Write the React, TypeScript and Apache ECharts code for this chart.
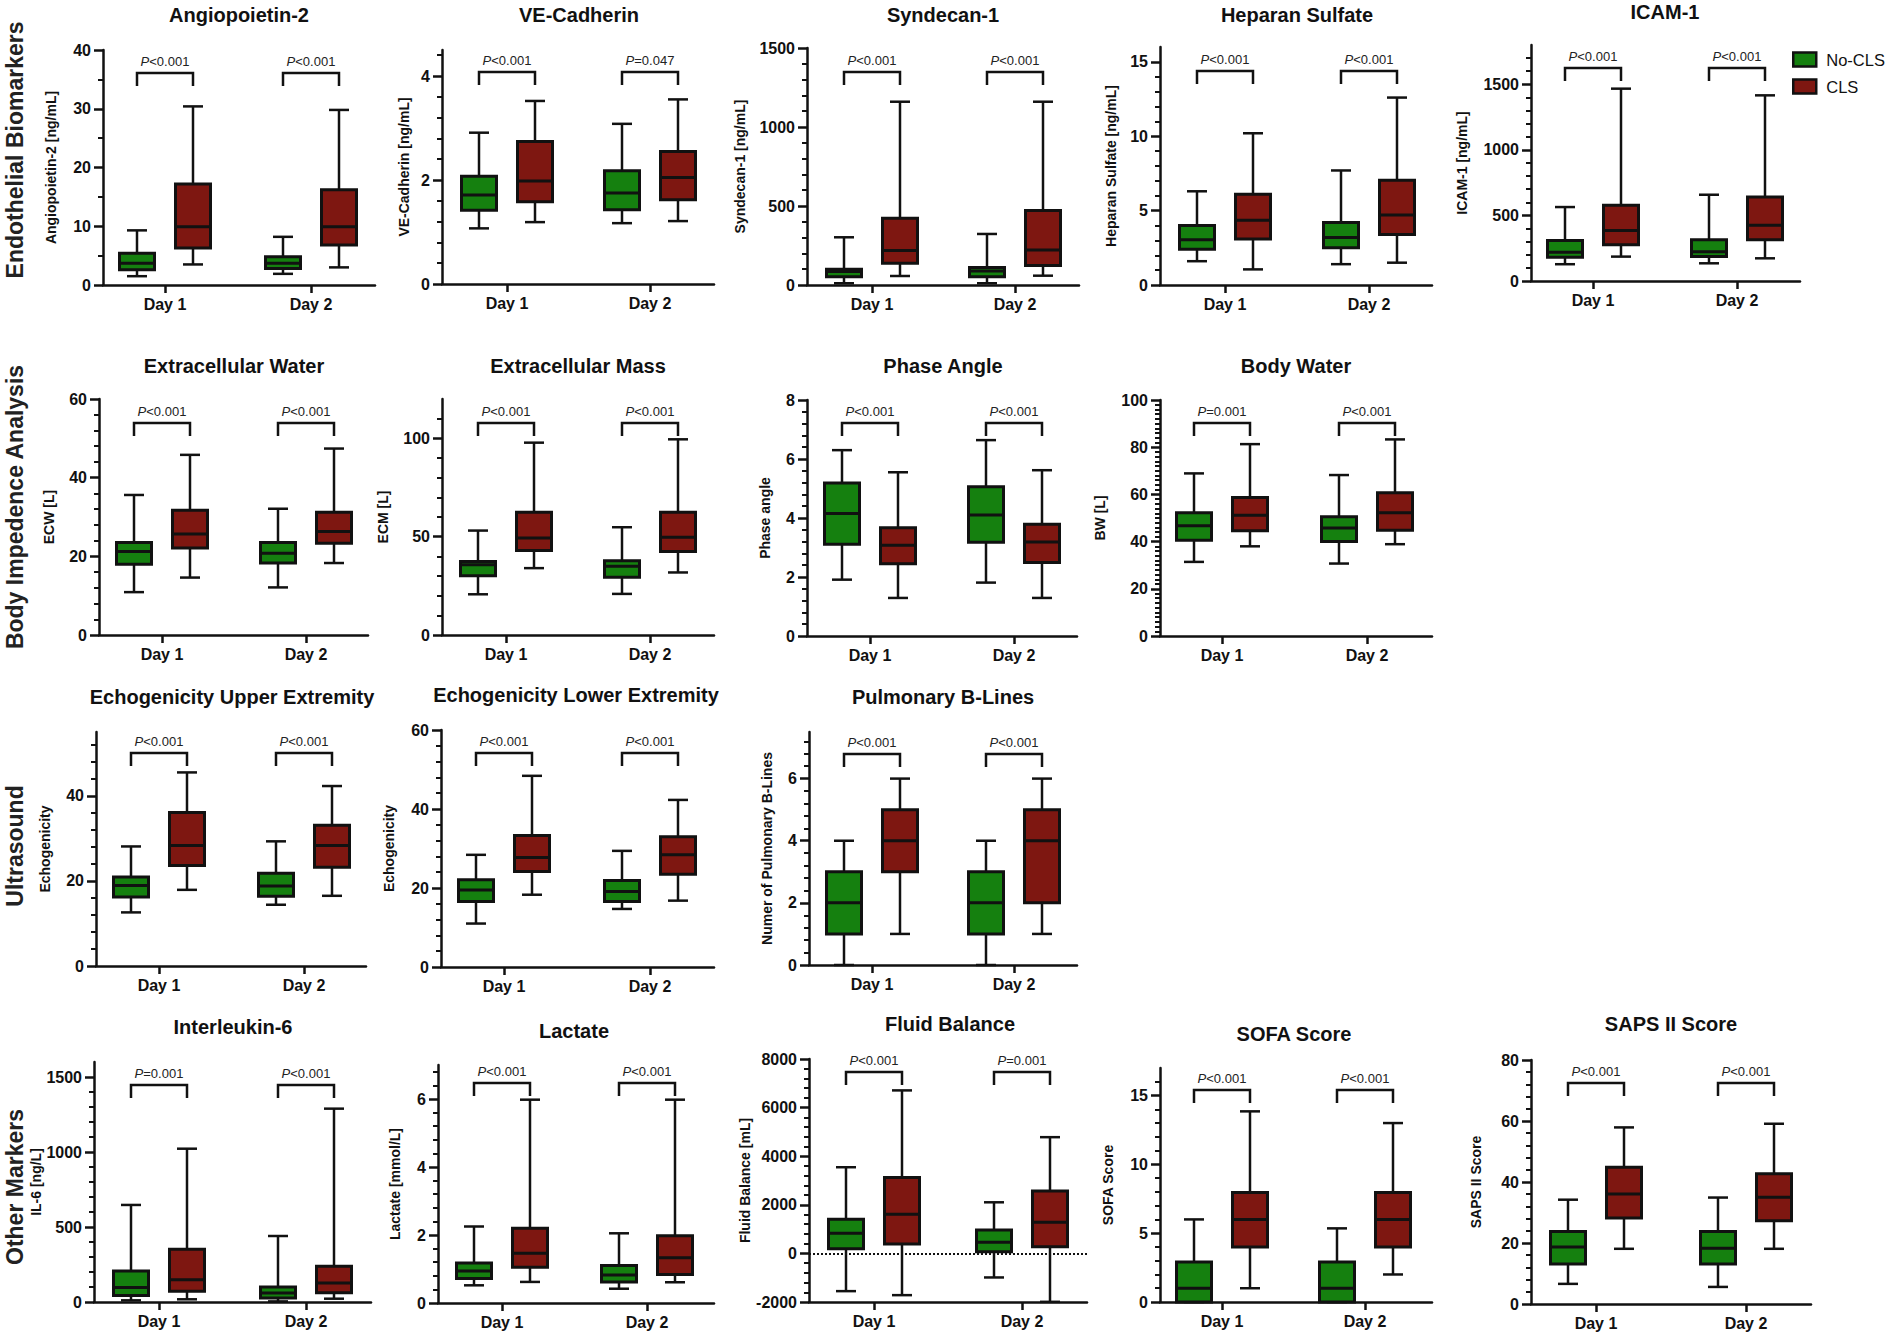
import React, { useEffect, useRef } from "react";
import * as echarts from "echarts";

const FONT = "'Liberation Sans', Arial, Helvetica, sans-serif";
const GREEN = "#15800f";
const RED = "#7e1711";
const INK = "#111111";

const days = ["Day 1", "Day 2"];
const groupNames = ["No-CLS", "CLS"];
const rowLabels = ["Endothelial Biomarkers", "Body Impedence Analysis", "Ultrasound", "Other Markers"];

// [min, Q1, median, Q3, max] for Day 1, Day 2
const angioNoCLS = [[1.5, 2.6, 3.7, 5.4, 9.3], [1.9, 2.8, 3.7, 4.8, 8.2]];
const angioCLS = [[3.5, 6.3, 9.9, 17.2, 30.4], [3.0, 6.8, 9.9, 16.2, 29.8]];
const angioP = ["<0.001", "<0.001"];

const veNoCLS = [[1.07, 1.42, 1.71, 2.07, 2.91], [1.17, 1.43, 1.75, 2.18, 3.08]];
const veCLS = [[1.19, 1.58, 1.98, 2.74, 3.52], [1.21, 1.62, 2.05, 2.55, 3.55]];
const veP = ["<0.001", "=0.047"];

const syndNoCLS = [[11, 53, 85, 99, 302], [11, 53, 89, 110, 323]];
const syndCLS = [[57, 137, 218, 423, 1160], [59, 123, 222, 471, 1160]];
const syndP = ["<0.001", "<0.001"];

const hepNoCLS = [[1.6, 2.4, 3.05, 4.0, 6.3], [1.4, 2.5, 3.2, 4.2, 7.7]];
const hepCLS = [[1.05, 3.1, 4.35, 6.1, 10.2], [1.5, 3.4, 4.7, 7.05, 12.6]];
const hepP = ["<0.001", "<0.001"];

const icamNoCLS = [[128, 181, 219, 309, 564], [135, 186, 224, 314, 658]];
const icamCLS = [[186, 276, 385, 577, 1467], [173, 314, 426, 640, 1416]];
const icamP = ["<0.001", "<0.001"];

const ecwNoCLS = [[10.9, 18, 21.2, 23.5, 35.6], [12.1, 18.3, 20.8, 23.5, 32.1]];
const ecwCLS = [[14.6, 22.1, 25.7, 31.7, 45.8], [18.3, 23.3, 26.3, 31.2, 47.4]];
const ecwP = ["<0.001", "<0.001"];

const ecmNoCLS = [[20.7, 30.1, 35.7, 37.4, 53.1], [20.9, 29.4, 34.9, 37.8, 54.8]];
const ecmCLS = [[34, 43, 49.3, 62.4, 97.8], [31.8, 42.5, 49.7, 62.4, 99.5]];
const ecmP = ["<0.001", "<0.001"];

const phaseNoCLS = [[1.91, 3.11, 4.15, 5.19, 6.3], [1.81, 3.18, 4.1, 5.06, 6.64]];
const phaseCLS = [[1.29, 2.45, 3.08, 3.67, 5.55], [1.29, 2.49, 3.19, 3.79, 5.62]];
const phaseP = ["<0.001", "<0.001"];

const bwNoCLS = [[31.4, 40.6, 46.7, 52.2, 68.9], [30.7, 40, 45.8, 50.5, 68.2]];
const bwCLS = [[38, 44.6, 51.2, 58.7, 81.3], [38.9, 44.8, 52.2, 60.7, 83.3]];
const bwP = ["=0.001", "<0.001"];

const echoUNoCLS = [[12.6, 16.2, 18.9, 20.9, 28.1], [14.4, 16.4, 18.8, 21.8, 29.3]];
const echoUCLS = [[17.9, 23.6, 28.3, 36.1, 45.5], [16.5, 23.2, 28.3, 33.1, 42.3]];
const echoUP = ["<0.001", "<0.001"];

const echoLNoCLS = [[11, 16.6, 19.5, 22.1, 28.4], [14.7, 16.6, 19.1, 21.9, 29.4]];
const echoLCLS = [[18.3, 24.2, 27.7, 33.3, 48.4], [16.8, 23.5, 28.4, 33, 42.3]];
const echoLP = ["<0.001", "<0.001"];

const blNoCLS = [[0, 1, 2, 3, 4], [0, 1, 2, 3, 4]];
const blCLS = [[1, 3, 4, 5, 6], [1, 2, 4, 5, 6]];
const blP = ["<0.001", "<0.001"];

const il6NoCLS = [[11, 44, 96, 207, 647], [4, 27, 60, 100, 440]];
const il6CLS = [[18, 71, 149, 351, 1022], [22, 62, 127, 238, 1289]];
const il6P = ["=0.001", "<0.001"];

const lacNoCLS = [[0.52, 0.72, 0.94, 1.18, 2.25], [0.42, 0.62, 0.82, 1.1, 2.05]];
const lacCLS = [[0.62, 1.05, 1.46, 2.2, 5.98], [0.61, 0.84, 1.33, 1.98, 5.98]];
const lacP = ["<0.001", "<0.001"];

const fluidNoCLS = [[-1553, 192, 825, 1402, 3546], [-990, 69, 454, 962, 2103]];
const fluidCLS = [[-1718, 385, 1608, 3120, 6708], [-1993, 275, 1278, 2570, 4783]];
const fluidP = ["<0.001", "=0.001"];

const sofaNoCLS = [[0, 0, 1, 2.9, 6], [0, 0, 1, 2.9, 5.35]];
const sofaCLS = [[1, 4, 6, 7.95, 13.85], [2, 4, 6, 7.95, 13]];
const sofaP = ["<0.001", "<0.001"];

const sapsNoCLS = [[6.6, 13.1, 18.7, 23.8, 34.2], [5.6, 13.1, 18.3, 23.8, 34.9]];
const sapsCLS = [[18.1, 28.2, 36.1, 44.8, 57.9], [18.1, 27.3, 35, 42.7, 59.1]];
const sapsP = ["<0.001", "<0.001"];

// layout: [axisLeft, axisTop, axisBottom, day1X, day2X, axisRight], title [x, y], y-name center x, bracket offset
const panels = [
  { title: "Angiopoietin-2", yName: "Angiopoietin-2 [ng/mL]", a: angioNoCLS, b: angioCLS, p: angioP, y: [0, 40, 10, 2], L: [103, 50, 285, 165, 311, 375], T: [239, 15], nx: 51, br: 23 },
  { title: "VE-Cadherin", yName: "VE-Cadherin [ng/mL]", a: veNoCLS, b: veCLS, p: veP, y: [0, 4.5, 2, 5], L: [442, 50, 284, 507, 650, 714], T: [579, 15], nx: 404, br: 22 },
  { title: "Syndecan-1", yName: "Syndecan-1 [ng/mL]", a: syndNoCLS, b: syndCLS, p: syndP, y: [0, 1500, 500, 5], L: [807, 48, 285, 872, 1015, 1079], T: [943, 15], nx: 740, br: 24 },
  { title: "Heparan Sulfate", yName: "Heparan Sulfate [ng/mL]", a: hepNoCLS, b: hepCLS, p: hepP, y: [0, 16, 5, 5], L: [1160, 47, 285, 1225, 1369, 1432], T: [1297, 15], nx: 1111, br: 24 },
  { title: "ICAM-1", yName: "ICAM-1 [ng/mL]", a: icamNoCLS, b: icamCLS, p: icamP, y: [0, 1800, 500, 5], L: [1531, 45, 281, 1593, 1737, 1800], T: [1665, 12], nx: 1462, br: 23 },
  { title: "Extracellular Water", yName: "ECW [L]", a: ecwNoCLS, b: ecwCLS, p: ecwP, y: [0, 60, 20, 5], L: [99, 399, 635, 162, 306, 368], T: [234, 366], nx: 49, br: 24 },
  { title: "Extracellular Mass", yName: "ECM [L]", a: ecmNoCLS, b: ecmCLS, p: ecmP, y: [0, 120, 50, 5], L: [442, 399, 635, 506, 650, 714], T: [578, 366], nx: 383, br: 24 },
  { title: "Phase Angle", yName: "Phase angle", a: phaseNoCLS, b: phaseCLS, p: phaseP, y: [0, 8, 2, 5], L: [807, 400, 636, 870, 1014, 1077], T: [943, 366], nx: 765, br: 23 },
  { title: "Body Water", yName: "BW [L]", a: bwNoCLS, b: bwCLS, p: bwP, y: [0, 100, 20, 10], L: [1160, 400, 636, 1222, 1367, 1432], T: [1296, 366], nx: 1100, br: 23 },
  { title: "Echogenicity Upper Extremity", yName: "Echogenicity", a: echoUNoCLS, b: echoUCLS, p: echoUP, y: [0, 55, 20, 5], L: [96, 732, 966, 159, 304, 366], T: [232, 697], nx: 45, br: 21 },
  { title: "Echogenicity Lower Extremity", yName: "Echogenicity", a: echoLNoCLS, b: echoLCLS, p: echoLP, y: [0, 60, 20, 5], L: [441, 730, 967, 504, 650, 714], T: [576, 695], nx: 389, br: 23 },
  { title: "Pulmonary B-Lines", yName: "Numer of Pulmonary B-Lines", a: blNoCLS, b: blCLS, p: blP, y: [0, 7.5, 2, 5], L: [809, 732, 965, 872, 1014, 1077], T: [943, 697], nx: 767, br: 22 },
  { title: "Interleukin-6", yName: "IL-6 [ng/L]", a: il6NoCLS, b: il6CLS, p: il6P, y: [0, 1600, 500, 5], L: [94, 1062, 1302, 159, 306, 371], T: [233, 1027], nx: 36, br: 23 },
  { title: "Lactate", yName: "Lactate [mmol/L]", a: lacNoCLS, b: lacCLS, p: lacP, y: [0, 7, 2, 5], L: [438, 1065, 1303, 502, 647, 714], T: [574, 1031], nx: 395, br: 18 },
  { title: "Fluid Balance", yName: "Fluid Balance [mL]", a: fluidNoCLS, b: fluidCLS, p: fluidP, y: [-2000, 8000, 2000, 5], L: [809, 1059, 1302, 874, 1022, 1087], T: [950, 1024], nx: 749, br: 13, zero: true },
  { title: "SOFA Score", yName: "SOFA Score", a: sofaNoCLS, b: sofaCLS, p: sofaP, y: [0, 17, 5, 5], L: [1160, 1068, 1302, 1222, 1365, 1432], T: [1294, 1034], nx: 1108, br: 22 },
  { title: "SAPS II Score", yName: "SAPS II Score", a: sapsNoCLS, b: sapsCLS, p: sapsP, y: [0, 80, 20, 5], L: [1531, 1060, 1304, 1596, 1746, 1811], T: [1671, 1024], nx: 1476, br: 23 },
];

const rowY = [150, 507, 846, 1187];

const BOX = 35;
const OFF = 28;
const CAP = 20;

function boxRenderer(offset: number, color: string) {
  return (params: any, api: any) => {
    const x = api.value(0);
    const c = (v: number) => api.coord([x, v]);
    const px = c(api.value(3))[0] + offset;
    const yMin = c(api.value(1))[1];
    const yQ1 = c(api.value(2))[1];
    const yMed = c(api.value(3))[1];
    const yQ3 = c(api.value(4))[1];
    const yMax = c(api.value(5))[1];
    const line = (x1: number, y1: number, x2: number, y2: number, w: number) => ({
      type: "line",
      shape: { x1, y1, x2, y2 },
      style: { stroke: INK, lineWidth: w },
    });
    return {
      type: "group",
      children: [
        line(px, yMax, px, yQ3, 2.5),
        line(px, yQ1, px, yMin, 2.5),
        line(px - CAP / 2, yMax, px + CAP / 2, yMax, 2.5),
        line(px - CAP / 2, yMin, px + CAP / 2, yMin, 2.5),
        {
          type: "rect",
          shape: { x: px - BOX / 2, y: yQ3, width: BOX, height: yQ1 - yQ3 },
          style: { fill: color, stroke: INK, lineWidth: 3 },
        },
        line(px - BOX / 2, yMed, px + BOX / 2, yMed, 3),
      ],
    };
  };
}

function buildOption() {
  const grid: any[] = [];
  const xAxis: any[] = [];
  const yAxis: any[] = [];
  const series: any[] = [];
  const graphic: any[] = [];
  const axisLineStyle = { color: INK, width: 2.5 };

  panels.forEach((p: any, i: number) => {
    const [l, t, b, t1, t2, r] = p.L;
    const step = t2 - t1;
    const [yMin, yMax, yInt, minor] = p.y;
    grid.push({ left: l, top: t, width: r - l, height: b - t, containLabel: false });
    xAxis.push({
      type: "value",
      gridIndex: i,
      min: 1 - (t1 - l) / step,
      max: 2 + (r - t2) / step,
      axisLine: { show: true, onZero: false, lineStyle: axisLineStyle },
      axisTick: { show: true, customValues: [1, 2], length: 8, lineStyle: { color: INK, width: 2.5 } },
      axisLabel: {
        show: true,
        customValues: [1, 2],
        formatter: (v: number) => days[Math.round(v) - 1] || "",
        fontSize: 16,
        fontWeight: "bold",
        color: INK,
        fontFamily: FONT,
        margin: 11,
      },
      splitLine: { show: false },
    });
    const majors: number[] = [];
    for (let v = yMin; v <= yMax + 1e-9; v += yInt) majors.push(Number(v.toFixed(6)));
    yAxis.push({
      type: "value",
      gridIndex: i,
      min: yMin,
      max: yMax,
      interval: yInt,
      name: p.yName,
      nameLocation: "middle",
      nameRotate: 90,
      nameGap: l - p.nx - 7,
      nameTextStyle: { fontSize: 14, fontWeight: "bold", color: INK, fontFamily: FONT },
      axisLine: { show: true, onZero: false, lineStyle: axisLineStyle },
      axisTick: { show: true, customValues: majors, length: 9, lineStyle: { color: INK, width: 2.5 } },
      minorTick: { show: true, splitNumber: minor, length: 5, lineStyle: { color: INK, width: 2 } },
      axisLabel: {
        show: true,
        customValues: majors,
        formatter: (v: number) => String(v),
        fontSize: 16,
        fontWeight: "bold",
        color: INK,
        fontFamily: FONT,
        margin: 12,
      },
      splitLine: { show: false },
      minorSplitLine: { show: false },
    });

    [p.a, p.b].forEach((stats: number[][], g: number) => {
      series.push({
        type: "custom",
        name: groupNames[g],
        xAxisIndex: i,
        yAxisIndex: i,
        silent: true,
        clip: false,
        itemStyle: { color: g ? RED : GREEN },
        encode: { x: 0, y: [1, 2, 3, 4, 5] },
        data: stats.map((s, d) => [d + 1, ...s]),
        renderItem: boxRenderer(g ? OFF : -OFF, g ? RED : GREEN),
        z: 3,
      });
    });

    const bracketSeries: any = {
      type: "custom",
      name: "p-" + i,
      xAxisIndex: i,
      yAxisIndex: i,
      silent: true,
      clip: false,
      encode: { x: 0, y: 1 },
      data: p.p.map((_: string, d: number) => [d + 1, yMax]),
      renderItem: (params: any, api: any) => {
        const x = api.value(0);
        const cx = api.coord([x, yMax])[0];
        const yb = params.coordSys.y + p.br;
        return {
          type: "group",
          children: [
            {
              type: "polyline",
              shape: { points: [[cx - OFF, yb + 13], [cx - OFF, yb], [cx + OFF, yb], [cx + OFF, yb + 13]] },
              style: { stroke: INK, lineWidth: 2.5, fill: null },
            },
            {
              type: "text",
              style: {
                text: "{i|P}{n|" + p.p[params.dataIndex] + "}",
                x: cx,
                y: yb - 12,
                align: "center",
                verticalAlign: "middle",
                fill: "#222",
                rich: {
                  i: { fontStyle: "italic", fontSize: 13, fontFamily: FONT, fill: "#222" },
                  n: { fontSize: 13, fontFamily: FONT, fill: "#222" },
                },
              },
            },
          ],
        };
      },
      z: 4,
    };
    if (p.zero) {
      bracketSeries.markLine = {
        silent: true,
        symbol: "none",
        label: { show: false },
        lineStyle: { type: "dotted", color: INK, width: 2 },
        data: [{ yAxis: 0 }],
      };
    }
    series.push(bracketSeries);

    graphic.push({
      type: "text",
      x: p.T[0],
      y: p.T[1],
      style: {
        text: p.title,
        font: `bold 20px ${FONT}`,
        fill: INK,
        align: "center",
        verticalAlign: "middle",
        textAlign: "center",
        textVerticalAlign: "middle",
      },
    });
  });

  rowLabels.forEach((t, k) => {
    graphic.push({
      type: "text",
      x: 15,
      y: rowY[k],
      rotation: Math.PI / 2,
      style: {
        text: t,
        font: `bold 23px ${FONT}`,
        fill: "#222",
        align: "center",
        verticalAlign: "middle",
        textAlign: "center",
        textVerticalAlign: "middle",
      },
    });
  });

  return {
    animation: false,
    backgroundColor: "#ffffff",
    grid,
    xAxis,
    yAxis,
    series,
    graphic,
    legend: {
      show: true,
      orient: "vertical",
      left: 1787,
      top: 46,
      itemWidth: 23,
      itemHeight: 14,
      itemGap: 10,
      selectedMode: false,
      icon: "rect",
      textStyle: { fontSize: 16.5, color: INK, fontFamily: FONT, padding: [0, 0, 0, 5] },
      data: [
        { name: groupNames[0], itemStyle: { color: GREEN, borderColor: INK, borderWidth: 2.5 } },
        { name: groupNames[1], itemStyle: { color: RED, borderColor: INK, borderWidth: 2.5 } },
      ],
    },
  };
}

export default function App() {
  const ref = useRef<HTMLDivElement>(null);
  useEffect(() => {
    document.body.style.margin = "0";
    if (!ref.current) return;
    const chart = echarts.init(ref.current, null, { renderer: "svg" });
    chart.setOption(buildOption() as any);
    return () => chart.dispose();
  }, []);
  return <div ref={ref} style={{ width: 1890, height: 1337, background: "#fff" }} />;
}
